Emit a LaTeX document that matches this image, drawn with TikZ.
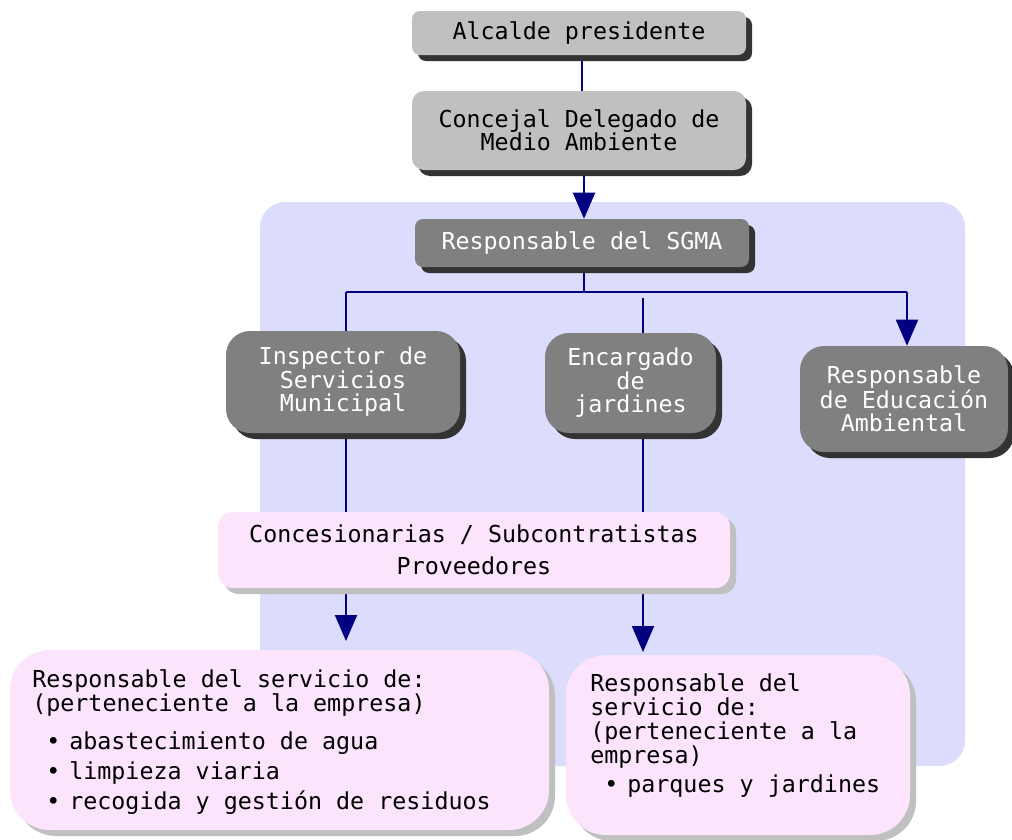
\documentclass[tikz,border=0pt]{standalone}
\usepackage{fontspec}
\newfontfamily\mono{DejaVu Sans Mono}
\usetikzlibrary{arrows.meta,shadows,backgrounds}
\newdimen\px \px=0.75pt
\definecolor{navy}{HTML}{000080}
\definecolor{lgrey}{HTML}{C0C0C0}
\definecolor{dgrey}{HTML}{808080}
\definecolor{shd}{HTML}{333333}
\definecolor{pnk}{HTML}{FCE4FC}
\definecolor{pshd}{HTML}{C0C0C0}
\definecolor{bgblue}{HTML}{DCDCFC}
\newcommand\txt{\mono\fontsize{17.5}{17.6}\selectfont}
\newcommand\txtb{\mono\fontsize{17.5}{18.2}\selectfont}
\newcommand\itm{\hspace*{14\px}•\hspace*{9\px}}
\begin{document}
\begin{tikzpicture}[x=0.75pt,y=-0.75pt,
  conn/.style={draw=navy,line width=1.5pt},
  arr/.style={conn,-{Triangle[width=16.5pt,length=19.5pt]}},
  base/.style={inner sep=0pt,align=center,font=\txt},
  lbox/.style={base,fill=lgrey,general shadow={fill=shd,shadow xshift=4.5pt,shadow yshift=-4.5pt}},
  dbox/.style={base,fill=dgrey,text=white,general shadow={fill=shd,shadow xshift=4.5pt,shadow yshift=-4.5pt}},
  pbox/.style={base,fill=pnk,general shadow={fill=pshd,shadow xshift=4.5pt,shadow yshift=-4.5pt}},
  ltext/.style={inner sep=0pt,align=left,font=\txtb,anchor=north west}]
\useasboundingbox (0,0) rectangle (1012,839);

% boxes
\node[lbox,rounded corners=6pt,minimum width=250.5pt,minimum height=33pt] (alc) at (579,33) {Alcalde presidente};
\node[lbox,rounded corners=9pt,minimum width=250.5pt,minimum height=59.25pt] (conc) at (579,130.5) {Concejal Delegado de\\Medio Ambiente};
\node[dbox,rounded corners=6pt,minimum width=250.5pt,minimum height=36pt] (sgma) at (582,243) {Responsable del SGMA};
\node[dbox,rounded corners=18pt,minimum width=175.5pt,minimum height=76.5pt] (insp) at (343,382) {Inspector de\\Servicios\\Municipal};
\node[dbox,rounded corners=18pt,minimum width=128.25pt,minimum height=75pt] (enc) at (630.5,383) {Encargado\\de\\jardines};
\node[dbox,rounded corners=18pt,minimum width=156pt,minimum height=79.5pt] (edu) at (904,399) {Responsable\\de Educación\\Ambiental};
\node[pbox,rounded corners=11pt,minimum width=384pt,minimum height=57pt] (prov) at (474,550) {Concesionarias / Subcontratistas\\[6pt]Proveedores};
\node[pbox,rounded corners=30pt,minimum width=404.25pt,minimum height=135pt] (bl) at (279.5,740) {};
\node[pbox,rounded corners=30pt,minimum width=258pt,minimum height=135pt] (br) at (738,745) {};

\node[ltext] (bltext) at (32,669) {Responsable del servicio de:\\
(perteneciente a la empresa)\\[10pt]
\itm abastecimiento de agua\\[4.5pt]
\itm limpieza viaria\\[4.5pt]
\itm recogida y gestión de residuos};
\node[ltext] (brtext) at (590,673) {Responsable del\\
servicio de:\\
(perteneciente a la\\
empresa)\\[3pt]
\itm parques y jardines};

% coordinates
\coordinate (xa) at (582,0);
\coordinate (xb) at (584,0);
\coordinate (bus) at (584,292);
\coordinate (busL) at (346,292);
\coordinate (busR) at (907,292);
\coordinate (mid) at (643,298);
\coordinate (t1) at (346,641);
\coordinate (t2) at (643,652);

\begin{scope}[on background layer]
\fill[bgblue,rounded corners=19pt] (260,202) rectangle (965,766);
\draw[conn] (xa |- alc.south) -- (xa |- conc.north);
\draw[arr] (xb |- conc.south) -- (xb |- sgma.north);
\draw[conn] (bus |- sgma.south) -- (bus);
\draw[conn] (busL) -- (busR);
\draw[conn] (busL) -- (busL |- insp.north);
\draw[conn] (mid) -- (mid |- enc.north);
\draw[arr] (busR) -- (busR |- edu.north);
\draw[conn] (busL |- insp.south) -- (busL |- prov.north);
\draw[conn] (mid |- enc.south) -- (mid |- prov.north);
\draw[arr] (busL |- prov.south) -- (t1);
\draw[arr] (mid |- prov.south) -- (t2);
\end{scope}
\end{tikzpicture}
\end{document}
